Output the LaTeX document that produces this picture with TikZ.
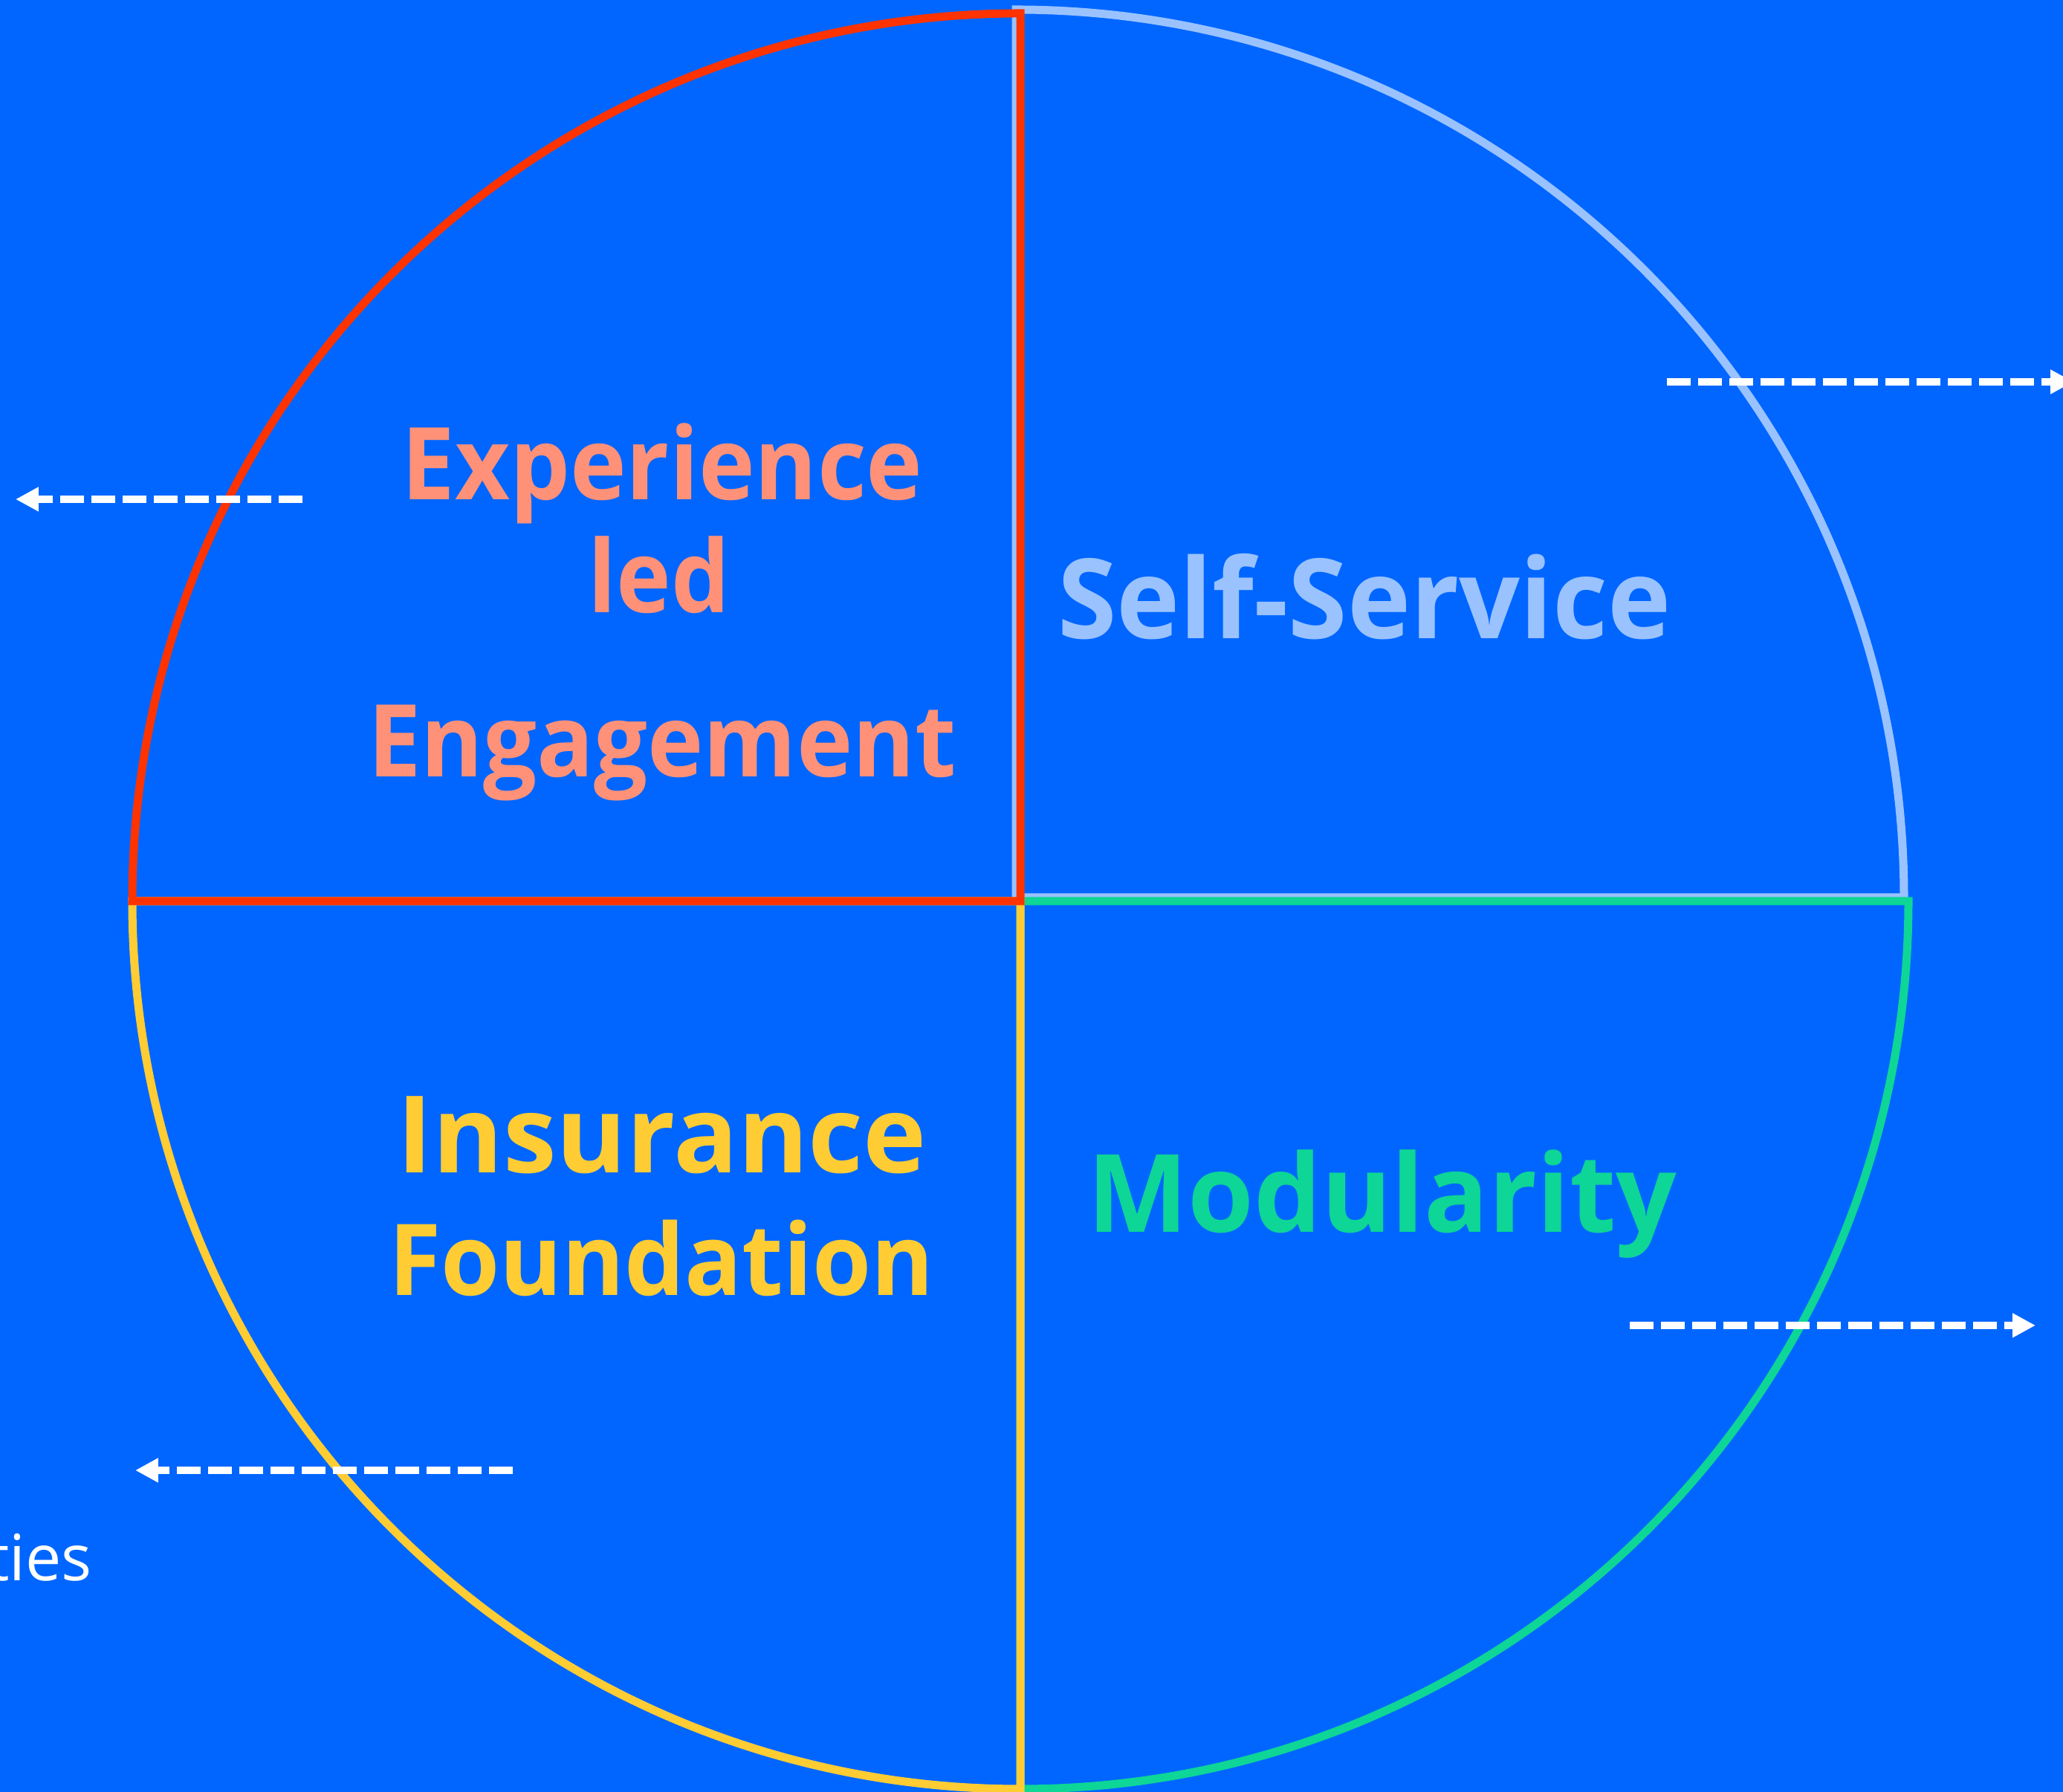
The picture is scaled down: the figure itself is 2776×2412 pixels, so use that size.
\documentclass[tikz,border=0pt]{standalone}
\usepackage{graphicx}
\usepackage{fontspec}
\setmainfont{Open Sans}
\usetikzlibrary{arrows.meta}
\definecolor{bgblue}{HTML}{0066FF}
\definecolor{qred}{HTML}{FF3300}
\definecolor{qsky}{HTML}{99C2FF}
\definecolor{qgreen}{HTML}{0DD696}
\definecolor{qyellow}{HTML}{FFCC33}
\definecolor{qsalmon}{HTML}{FF9178}
% narrowed bold title text: \ttl{size}{x-factor}{text}
\newcommand{\ttl}[3]{\fontsize{#1}{#1}\bfseries\scalebox{#2}[1]{#3}}
\tikzset{
  quarter/.style={line width=0.22cm, line join=miter},
  label/.style={inner sep=0pt, anchor=base},
  flow/.style={white, line width=0.2cm, dash pattern=on 0.64cm off 0.2cm,
    -{Triangle[length=0.62cm,width=0.62cm]}},
}
\begin{document}
\begin{tikzpicture}[x=0.02cm,y=0.02cm]
% canvas
\fill[bgblue] (0,0) rectangle (2776,2412);
\useasboundingbox (0,0) rectangle (2776,2412);

% four quarters of the circle
\draw[quarter, qsky] (1367,1204) -- ++(1195,0) arc[start angle=0, end angle=90, radius=1195] -- cycle;
\draw[quarter, qgreen] (1373,1199) -- ++(0,-1195) arc[start angle=270, end angle=360, radius=1195] -- cycle;
\draw[quarter, qyellow] (1373,1199) -- ++(-1195,0) arc[start angle=180, end angle=270, radius=1195] -- cycle;
\draw[quarter, qred] (1373,1199) -- ++(0,1195) arc[start angle=90, end angle=180, radius=1195] -- cycle;

% quarter titles
\node[label, qsalmon] (exp) at (891,1739) {\ttl{77}{0.947}{Experience}};
\node[label, qsalmon] (led) at (887,1587) {\ttl{77}{0.92}{led}};
\node[label, qsalmon] (eng) at (891,1366) {\ttl{77}{0.942}{Engagement}};
\node[label, qsky] (self) at (1836,1552) {\ttl{85}{0.965}{Self-Service}};
\node[label, qyellow] (ins) at (891,833) {\ttl{82}{1.0}{Insurance}};
\node[label, qyellow] (fnd) at (890,668) {\ttl{76}{0.958}{Foundation}};
\node[label, qgreen] (mod) at (1860,753) {\ttl{83}{0.985}{Modularity}};

% side text
\node[inner sep=0pt, anchor=base east, white, font=\fontsize{49}{49}\selectfont] (ties) at (124,284) {ties};

% dashed pointers
\coordinate (a1s) at (407,1740);  \coordinate (a1e) at (21,1740);
\coordinate (a2s) at (2243,1898); \coordinate (a2e) at (2790,1898);
\coordinate (a3s) at (2193,628);  \coordinate (a3e) at (2739,628);
\coordinate (a4s) at (690,433);   \coordinate (a4e) at (182,433);
\draw[flow] (a1s) -- (a1e);
\draw[flow] (a2s) -- (a2e);
\draw[flow] (a3s) -- (a3e);
\draw[flow] (a4s) -- (a4e);
\end{tikzpicture}
\end{document}
